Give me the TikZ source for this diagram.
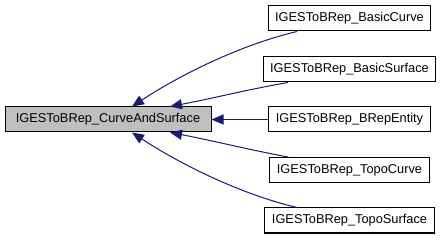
\documentclass[tikz,border=0pt]{standalone}
\usepackage{fontspec}
\setmainfont{Liberation Sans}
\usetikzlibrary{arrows.meta}

\definecolor{edgeblue}{HTML}{191970}
\definecolor{basegray}{HTML}{BFBFBF}

\begin{document}
\begin{tikzpicture}[x=1pt, y=-1pt,
        box/.style={draw=black, line width=1pt, fill=white, minimum height=25pt,
                    inner xsep=7pt, font=\fontsize{12.8}{15}\selectfont},
        edge/.style={draw=edgeblue, line width=1pt,
                     -{Triangle[length=12pt, width=10pt]}}]
        \useasboundingbox (0, 0) rectangle (447, 240);

        % base class on the left
        \node[box, fill=basegray, minimum width=206pt] (base) at (108, 119.5) {IGESToBRep\_CurveAndSurface};

        % derived classes
        \node[box] (bcurve) at (349.5, 18.5) {IGESToBRep\_BasicCurve};
        \node[box] (bsurf) at (349.5, 69.5) {IGESToBRep\_BasicSurface};
        \node[box] (brep) at (349.5, 119.5) {IGESToBRep\_BRepEntity};
        \node[box] (tcurve) at (349.5, 170) {IGESToBRep\_TopoCurve};
        \node[box] (tsurf) at (349.5, 220.5) {IGESToBRep\_TopoSurface};

        \draw[edge] ([xshift=-52.5pt]bcurve.south) .. controls (240, 45) and (180, 75) .. ([xshift=24pt]base.north);
        \draw[edge] ([xshift=-61.5pt]bsurf.south) .. controls (250, 89) and (210, 99) .. ([xshift=62pt]base.north);
        \draw[edge] (brep) -- (base);
        \draw[edge] ([xshift=-61.5pt]tcurve.north) .. controls (250, 150) and (210, 140) .. ([xshift=62pt]base.south);
        \draw[edge] ([xshift=-52.5pt]tsurf.north) .. controls (240, 194) and (180, 164) .. ([xshift=24pt]base.south);
\end{tikzpicture}
\end{document}
